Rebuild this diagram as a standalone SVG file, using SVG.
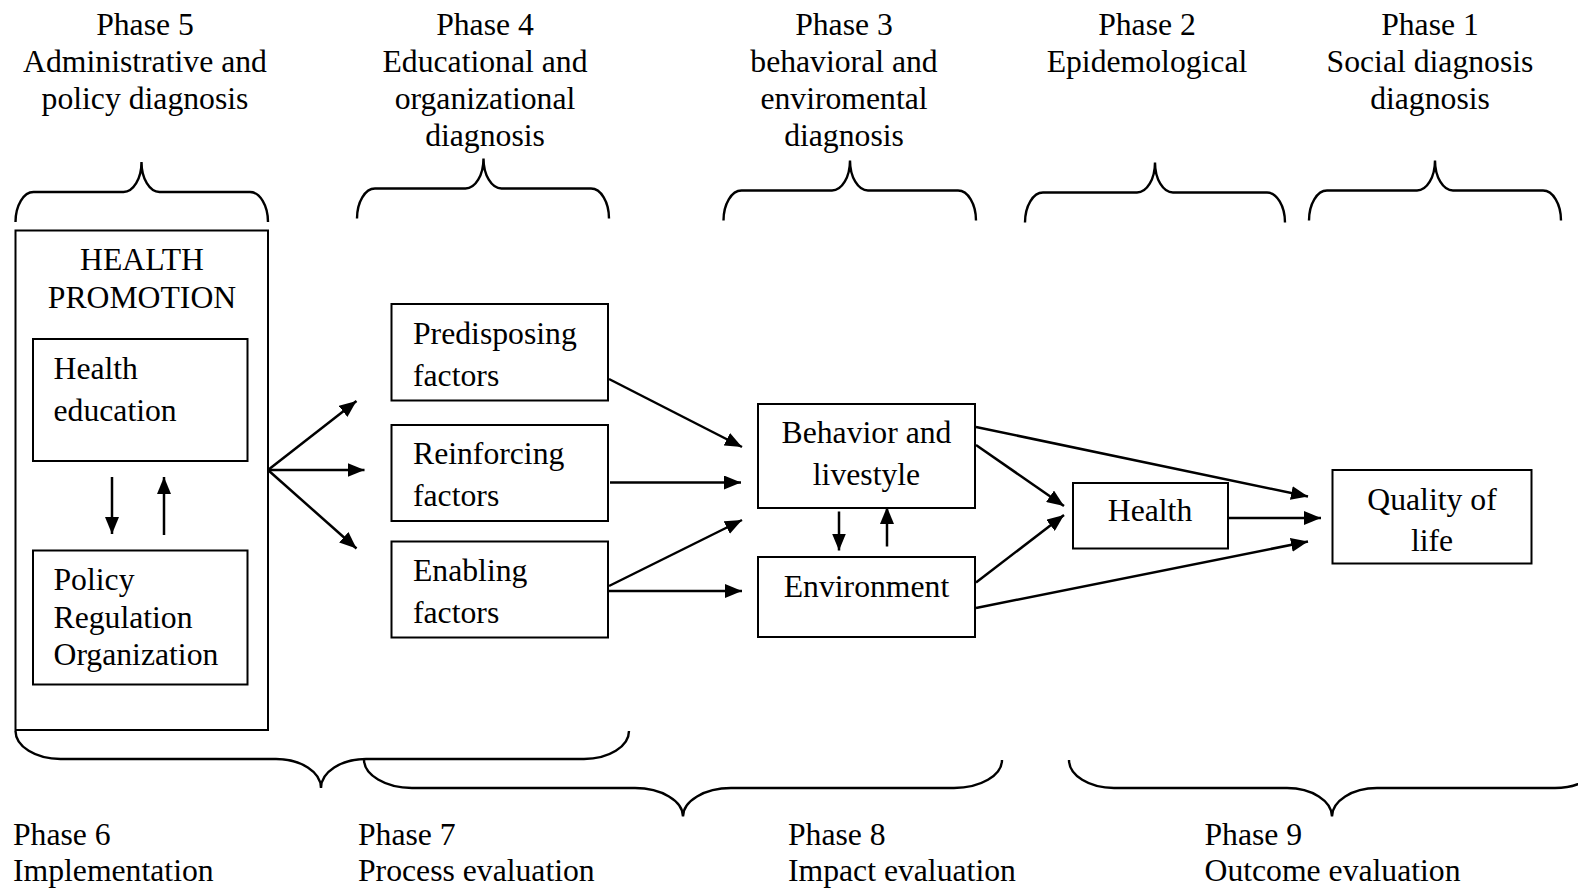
<svg xmlns="http://www.w3.org/2000/svg" width="1578" height="889" viewBox="0 0 1578 889">
<defs>
<marker id="ah" markerUnits="userSpaceOnUse" markerWidth="18" markerHeight="14" refX="17" refY="7" orient="auto">
<path d="M0,0 L17,7 L0,14 z" fill="#000"/>
</marker>
<style>
text{font-family:"Liberation Serif","Times New Roman",serif;font-size:31.7px;fill:#000}
.c{text-anchor:middle}
.box{fill:#fff;stroke:#000;stroke-width:2}
.brace{fill:none;stroke:#000;stroke-width:2.4}
.conn line{stroke:#000;stroke-width:2.5;marker-end:url(#ah)}
</style>
</defs>
<rect width="1578" height="889" fill="#fff"/>

<g id="phase-labels-top">
<text class="c" x="145" y="35">Phase 5</text>
<text class="c" x="145" y="72">Administrative and</text>
<text class="c" x="145" y="109">policy diagnosis</text>
<text class="c" x="485" y="35">Phase 4</text>
<text class="c" x="485" y="72">Educational and</text>
<text class="c" x="485" y="109">organizational</text>
<text class="c" x="485" y="146">diagnosis</text>
<text class="c" x="844" y="35">Phase 3</text>
<text class="c" x="844" y="72">behavioral and</text>
<text class="c" x="844" y="109">enviromental</text>
<text class="c" x="844" y="146">diagnosis</text>
<text class="c" x="1147" y="35">Phase 2</text>
<text class="c" x="1147" y="72">Epidemological</text>
<text class="c" x="1430" y="35">Phase 1</text>
<text class="c" x="1430" y="72">Social diagnosis</text>
<text class="c" x="1430" y="109">diagnosis</text>
</g>

<g id="braces-top">
<path class="brace" d="M15.5,222 c0,-16.6 8.1,-30 18,-30 H123.5 c9.9,0 18,-13.4 18,-30 c0,16.6 8.1,30 18,30 H250 c9.9,0 18,13.4 18,30"/>
<path class="brace" d="M357,218.5 c0,-16.6 8.1,-30 18,-30 H465.5 c9.9,0 18,-13.4 18,-30 c0,16.6 8.1,30 18,30 H591 c9.9,0 18,13.4 18,30"/>
<path class="brace" d="M723.5,220.5 c0,-16.6 8.1,-30 18,-30 H832 c9.9,0 18,-13.4 18,-30 c0,16.6 8.1,30 18,30 H958 c9.9,0 18,13.4 18,30"/>
<path class="brace" d="M1025,222.5 c0,-16.6 8.1,-30 18,-30 H1137 c9.9,0 18,-13.4 18,-30 c0,16.6 8.1,30 18,30 H1267 c9.9,0 18,13.4 18,30"/>
<path class="brace" d="M1309,220.5 c0,-16.6 8.1,-30 18,-30 H1417 c9.9,0 18,-13.4 18,-30 c0,16.6 8.1,30 18,30 H1543 c9.9,0 18,13.4 18,30"/>
</g>

<g id="health-promotion">
<rect class="box" x="15.5" y="230.5" width="252.5" height="499.5"/>
<text class="c" x="142" y="270">HEALTH</text>
<text class="c" x="142" y="308">PROMOTION</text>
</g>
<g id="health-education">
<rect class="box" x="33" y="339" width="214.5" height="122"/>
<text x="53.5" y="379">Health</text>
<text x="53.5" y="420.5">education</text>
</g>
<g id="policy">
<rect class="box" x="33" y="550.5" width="214.5" height="134"/>
<text x="53.5" y="590">Policy</text>
<text x="53.5" y="627.5">Regulation</text>
<text x="53.5" y="665">Organization</text>
</g>
<g id="predisposing">
<rect class="box" x="391.5" y="304" width="216.5" height="96.5"/>
<text x="413" y="344">Predisposing</text>
<text x="413" y="386">factors</text>
</g>
<g id="reinforcing">
<rect class="box" x="391.5" y="425" width="216.5" height="96"/>
<text x="413" y="464">Reinforcing</text>
<text x="413" y="506">factors</text>
</g>
<g id="enabling">
<rect class="box" x="391.5" y="541.5" width="216.5" height="96"/>
<text x="413" y="581">Enabling</text>
<text x="413" y="623">factors</text>
</g>
<g id="behavior">
<rect class="box" x="758" y="404" width="217" height="104"/>
<text class="c" x="866.5" y="443">Behavior and</text>
<text class="c" x="866.5" y="485">livestyle</text>
</g>
<g id="environment">
<rect class="box" x="758" y="557" width="217" height="80"/>
<text class="c" x="866.5" y="597">Environment</text>
</g>
<g id="health">
<rect class="box" x="1073" y="483" width="155" height="65.5"/>
<text class="c" x="1150" y="521">Health</text>
</g>
<g id="quality">
<rect class="box" x="1332.5" y="470" width="199" height="93.5"/>
<text class="c" x="1432" y="510">Quality of</text>
<text class="c" x="1432" y="551">life</text>
</g>

<g id="connectors" class="conn">
<line x1="112" y1="477" x2="112" y2="534"/>
<line x1="164" y1="535" x2="164" y2="477"/>
<line x1="268" y1="470" x2="356.5" y2="401"/>
<line x1="268" y1="470" x2="364.5" y2="470"/>
<line x1="268" y1="470" x2="356.5" y2="548.5"/>
<line x1="609" y1="379" x2="742" y2="447"/>
<line x1="610" y1="482.5" x2="741" y2="482.5"/>
<line x1="609" y1="586" x2="742" y2="520"/>
<line x1="609" y1="591" x2="742" y2="591"/>
<line x1="839" y1="511.5" x2="839" y2="550.5"/>
<line x1="887" y1="546.5" x2="887" y2="507"/>
<line x1="976" y1="445" x2="1064" y2="506"/>
<line x1="976" y1="582.5" x2="1064" y2="515"/>
<line x1="976" y1="427" x2="1308" y2="496.5"/>
<line x1="1229" y1="518" x2="1321" y2="518"/>
<line x1="976" y1="608" x2="1308" y2="541.5"/>
</g>

<g id="braces-bottom">
<path class="brace" d="M15.5,731 c0,15.5 20.2,28 45,28 H276 c24.8,0 45,13 45,29 c0,-16 20.2,-29 45,-29 H584 c24.8,0 45,-12.5 45,-28"/>
<path class="brace" d="M364,759.5 c0,15.5 21.5,28.5 48,28.5 H635 c26.5,0 48,13 48,28.5 c0,-15.5 21.5,-28.5 48,-28.5 H954 c26.5,0 48,-12.5 48,-28"/>
<path class="brace" d="M1069,760 c0,15.5 20.2,28 45,28 H1287 c24.8,0 45,13 45,28.5 c0,-15.5 20.2,-28.5 45,-28.5 H1555 c24.8,0 45,-12.5 45,-28"/>
</g>

<g id="phase-labels-bottom">
<text x="13" y="845">Phase 6</text>
<text x="13" y="881">Implementation</text>
<text x="358" y="845">Phase 7</text>
<text x="358" y="881">Process evaluation</text>
<text x="788" y="845">Phase 8</text>
<text x="788" y="881">Impact evaluation</text>
<text x="1204.5" y="845">Phase 9</text>
<text x="1204.5" y="881">Outcome evaluation</text>
</g>
</svg>
